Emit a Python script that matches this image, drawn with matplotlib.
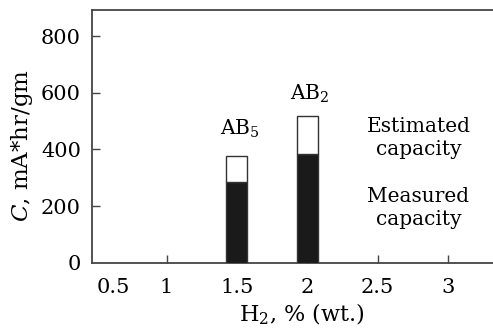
import matplotlib
matplotlib.use("Agg")
import matplotlib.pyplot as plt

h2 = [1.5, 2.0]
measured = [286, 383]
estimated = [377, 518]
alloy_labels = ["AB$_5$", "AB$_2$"]
xticks = [0.5, 1, 1.5, 2, 2.5, 3]
xticklabels = ["0.5", "1", "1.5", "2", "2.5", "3"]
yticks = [0, 200, 400, 600, 800]

plt.rcParams['font.family'] = ['DejaVu Serif']
plt.rcParams['mathtext.fontset'] = 'dejavuserif'

W, H = 493, 329
fig = plt.figure(figsize=(W / 100, H / 100), dpi=100)
ax = fig.add_axes([92 / W, 1 - 262.7 / H, 1 - 92 / W, (262.7 - 10) / H])

w = 0.15
ec = '#333333'
ax.bar(h2, measured, width=w, color='#1a1a1a', edgecolor=ec, linewidth=1.0, zorder=3)
ax.bar(h2, [e - m for e, m in zip(estimated, measured)], bottom=measured, width=w,
       color='white', edgecolor=ec, linewidth=1.0, zorder=3)

label_dy = [74, 56]
for x, e, lab, dy in zip(h2, estimated, alloy_labels, label_dy):
    ax.text(x + 0.02, e + dy, lab, ha='center', va='baseline', fontsize=14.5)

tx = 2.79
fs = 14.5
ax.text(tx, 461, "Estimated", ha='center', va='baseline', fontsize=fs)
ax.text(tx, 380, "capacity", ha='center', va='baseline', fontsize=fs)
ax.text(tx, 214, "Measured", ha='center', va='baseline', fontsize=fs)
ax.text(tx, 133, "capacity", ha='center', va='baseline', fontsize=fs)

ax.set_xlim(0.47, 3.32)
ax.set_ylim(0, 892)
ax.set_xticks(xticks)
ax.set_xticklabels(xticklabels)
ax.set_yticks(yticks)
ax.tick_params(direction='in', length=6, width=1.0, color='#444444', labelsize=15)
ax.tick_params(axis='x', pad=11)
ax.tick_params(axis='y', pad=8)
ax.get_xticklabels()[0].set_ha('left')
ax.xaxis.get_major_ticks()[0].tick1line.set_visible(False)
ax.yaxis.get_major_ticks()[0].tick1line.set_visible(False)
for s in ['top', 'left', 'bottom']:
    ax.spines[s].set_color('#444444')
    ax.spines[s].set_linewidth(1.3)
ax.spines['right'].set_visible(False)

fig.text(301.5 / W, 1 - 321.5 / H, "H$_2$, % (wt.)", ha='center', va='baseline', fontsize=16)
fig.text(22 / W, 1 - 146 / H, "$C$, mA*hr/gm", ha='center', va='center', rotation=90, fontsize=16.5)

fig.savefig("out.png", dpi=100)
